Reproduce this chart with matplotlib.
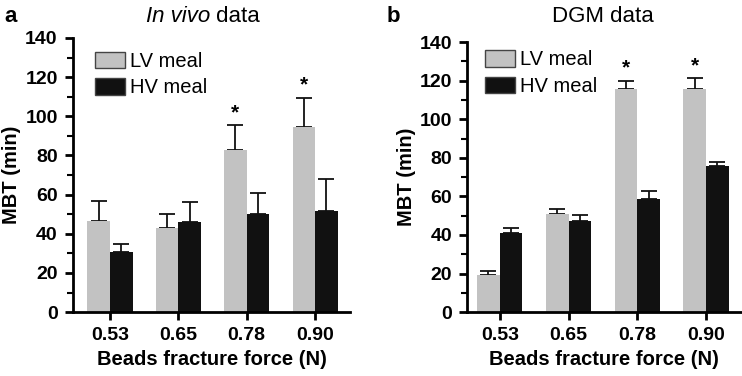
import numpy as np
import matplotlib.pyplot as plt
from matplotlib.ticker import MultipleLocator

# bead fracture force groups
forces = ['0.53', '0.65', '0.78', '0.90']

# panel a: in vivo data (mean and upper error)
invivo_lv = [46.5, 43, 83, 94.5]
invivo_lv_err = [10, 7, 12.5, 15]
invivo_hv = [30.5, 46, 50, 51.5]
invivo_hv_err = [4.5, 10, 11, 16.5]
invivo_sig = [False, False, True, True]

# panel b: DGM data
dgm_lv = [19, 51, 115.5, 115.5]
dgm_lv_err = [2.5, 2.5, 4.5, 6]
dgm_hv = [41, 47, 58.5, 75.5]
dgm_hv_err = [2.5, 3.5, 4.5, 2.5]
dgm_sig = [False, False, True, True]

plt.rcParams['font.family'] = 'Liberation Sans'

LV_COLOR = '#c2c2c2'
HV_COLOR = '#111111'


def draw_panel(ax, lv, lv_err, hv, hv_err, sig, xlim, leg_x, leg_y):
    x = np.arange(len(forces))
    w = 0.33
    ax.bar(x - w / 2, lv, w, color=LV_COLOR, label='LV meal', zorder=2)
    ax.bar(x + w / 2, hv, w, color=HV_COLOR, label='HV meal', zorder=2)
    ax.errorbar(x - w / 2, lv, yerr=[np.zeros(len(lv)), lv_err], fmt='none',
                ecolor='#111111', elinewidth=1.3, capsize=6, capthick=1.3, zorder=1)
    ax.errorbar(x + w / 2, hv, yerr=[np.zeros(len(hv)), hv_err], fmt='none',
                ecolor='#111111', elinewidth=1.3, capsize=6, capthick=1.3, zorder=1)
    for i, s in enumerate(sig):
        if s:
            ax.text(x[i] - w / 2, lv[i] + lv_err[i] + 1.5, '*', ha='center', va='bottom',
                    fontsize=15, fontweight='bold')
    ax.set_xlim(*xlim)
    ax.set_ylim(0, 140)
    ax.set_xticks(x)
    ax.set_xticklabels(forces)
    ax.yaxis.set_major_locator(MultipleLocator(20))
    ax.yaxis.set_minor_locator(MultipleLocator(10))
    for side in ['top', 'right']:
        ax.spines[side].set_visible(False)
    for side in ['left', 'bottom']:
        ax.spines[side].set_linewidth(2)
    ax.tick_params(axis='both', which='major', width=2, length=6, labelsize=14, pad=5)
    ax.tick_params(axis='y', which='minor', width=1.5, length=4)
    for lab in ax.get_xticklabels() + ax.get_yticklabels():
        lab.set_fontweight('bold')
    ax.set_ylabel('MBT (min)', fontsize=14.5, fontweight='bold', labelpad=3)
    ax.set_xlabel('Beads fracture force (N)', fontsize=14.5, fontweight='bold', labelpad=4)
    leg = ax.legend(loc='upper left', bbox_to_anchor=(leg_x, leg_y), frameon=False,
                    fontsize=14.5, handlelength=1.5, handleheight=0.9,
                    handletextpad=0.25, labelspacing=0.35, borderaxespad=0)
    for p in leg.get_patches():
        p.set_edgecolor('#444444')
        p.set_linewidth(1)


fig = plt.figure(figsize=(7.42, 3.76), dpi=100)
ax1 = fig.add_axes([0.0984, 0.170, 0.3733, 0.729])
ax2 = fig.add_axes([0.630, 0.170, 0.3687, 0.718])

draw_panel(ax1, invivo_lv, invivo_lv_err, invivo_hv, invivo_hv_err, invivo_sig,
           (-0.54, 3.51), 0.05, 0.98)
draw_panel(ax2, dgm_lv, dgm_lv_err, dgm_hv, dgm_hv_err, dgm_sig,
           (-0.47, 3.51), 0.035, 1.0)

fig.text(0.006, 0.955, 'a', fontsize=16, fontweight='bold', va='center')
fig.text(0.283, 0.955, 'In vivo', fontsize=16, style='italic', ha='right', va='center')
fig.text(0.283, 0.955, ' data', fontsize=16, ha='left', va='center')
fig.text(0.521, 0.955, 'b', fontsize=16, fontweight='bold', va='center')
fig.text(0.813, 0.955, 'DGM data', fontsize=16, ha='center', va='center')

fig.savefig('out.png', dpi=100)
